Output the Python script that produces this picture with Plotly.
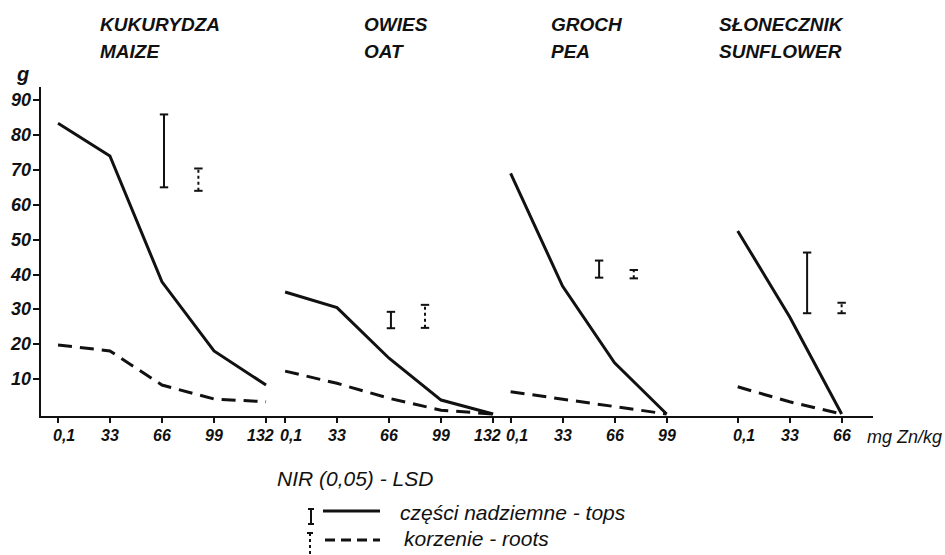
import plotly.graph_objects as go

# ---------------- data ----------------
crop_pl = ["KUKURYDZA", "OWIES", "GROCH", "SŁONECZNIK"]
crop_en = ["MAIZE", "OAT", "PEA", "SUNFLOWER"]

maize_doses = [0.1, 33, 66, 99, 132]
oat_doses = [0.1, 33, 66, 99, 132]
pea_doses = [0.1, 33, 66, 99]
sunflower_doses = [0.1, 33, 66]

maize_labels = ["0,1", "33", "66", "99", "132"]
oat_labels = ["0,1", "33", "66", "99", "132"]
pea_labels = ["0,1", "33", "66", "99"]
sunflower_labels = ["0,1", "33", "66"]

maize_tops = [83.4, 74.0, 37.9, 18.1, 8.3]
maize_roots = [19.8, 18.1, 8.3, 4.3, 3.5]
oat_tops = [35.0, 30.5, 16.0, 4.0, 0.0]
oat_roots = [12.3, 8.8, 4.5, 1.1, 0.0]
pea_tops = [69.0, 36.7, 14.7, 0.0]
pea_roots = [6.4, 4.2, 2.0, 0.0]
sunflower_tops = [52.5, 27.9, 0.0]
sunflower_roots = [7.8, 3.5, 0.0]

# LSD (NIR 0.05) bars: dose position, lower and upper end
lsd_tops_x = [67.3, 67.2, 56.2, 44.1]
lsd_tops_low = [65.0, 24.6, 39.1, 28.9]
lsd_tops_high = [85.9, 29.3, 44.0, 46.3]
lsd_roots_x = [89.1, 88.8, 78.2, 66.0]
lsd_roots_low = [64.0, 24.7, 38.9, 28.9]
lsd_roots_high = [70.4, 31.3, 41.3, 31.9]

y_ticks = [10, 20, 30, 40, 50, 60, 70, 80, 90]

# ---------------- layout constants ----------------
W, H = 945, 555
ML, MR, MT, MB = 41, 72, 87, 139
PW, PH = W - ML - MR, H - MT - MB
panel_offset = [0, 144, 287, 431]          # horizontal shift of each crop panel
X_RANGE = [-10.7, -10.7 + PW / 1.577]
Y_RANGE = [-0.57, -0.57 + PH / 3.4875]

FAM = "Liberation Sans, Arial, sans-serif"
INK = "#111111"


def px(xp):
    return (xp - ML) / PW


def py(yp):
    return (H - MB - yp) / PH


def fnt(size, bold=False):
    return dict(family=FAM, size=size, color=INK, style="italic",
                weight="bold" if bold else "normal")


doses = [maize_doses, oat_doses, pea_doses, sunflower_doses]
labels = [maize_labels, oat_labels, pea_labels, sunflower_labels]
tops = [maize_tops, oat_tops, pea_tops, sunflower_tops]
roots = [maize_roots, oat_roots, pea_roots, sunflower_roots]

fig = go.Figure()
annotations = []

tickvals = []
for i in range(4):
    xs = [d + panel_offset[i] for d in doses[i]]
    tickvals += xs
    fig.add_trace(go.Scatter(x=xs, y=tops[i], mode="lines",
                             line=dict(color=INK, width=3), showlegend=False,
                             hoverinfo="skip"))
    fig.add_trace(go.Scatter(x=xs, y=roots[i], mode="lines",
                             line=dict(color=INK, width=3, dash="14px,8px"),
                             showlegend=False, hoverinfo="skip"))
    # LSD bars
    xt = lsd_tops_x[i] + panel_offset[i]
    fig.add_trace(go.Scatter(x=[xt, xt], y=[lsd_tops_low[i], lsd_tops_high[i]],
                             mode="lines+markers",
                             line=dict(color=INK, width=2),
                             marker=dict(symbol="line-ew", size=6,
                                         line=dict(color=INK, width=2)),
                             showlegend=False, hoverinfo="skip"))
    xr = lsd_roots_x[i] + panel_offset[i]
    fig.add_trace(go.Scatter(x=[xr, xr], y=[lsd_roots_low[i], lsd_roots_high[i]],
                             mode="lines+markers",
                             line=dict(color=INK, width=2, dash="3px,3px"),
                             marker=dict(symbol="line-ew", size=6,
                                         line=dict(color=INK, width=2)),
                             showlegend=False, hoverinfo="skip"))
    # x tick labels (as text so the crowded 132 / 0,1 pairs can sit apart)
    for x, lab in zip(xs, labels[i]):
        shift = 6 if lab == "0,1" else (-6 if lab == "132" else 0)
        annotations.append(dict(x=x, y=py(435), xref="x", yref="paper",
                                text=lab, showarrow=False,
                                xanchor="center", yanchor="middle", xshift=shift,
                                font=fnt(16, True)))

# y tick labels
for v in y_ticks:
    annotations.append(dict(x=px(33), y=v, xref="paper", yref="y", text=str(v),
                            showarrow=False, xanchor="right", yanchor="middle",
                            font=fnt(18, True)))

title_left = [98, 362, 549, 717]
for i in range(4):
    for txt, yy in ((crop_pl[i], 24), (crop_en[i], 51)):
        annotations.append(dict(x=px(title_left[i]), y=py(yy), xref="paper",
                                yref="paper", text=txt, showarrow=False,
                                xanchor="left", yanchor="middle",
                                font=fnt(19, True)))

annotations.append(dict(x=px(22), y=py(74), xref="paper", yref="paper",
                        text="g", showarrow=False, xanchor="center",
                        yanchor="middle", font=fnt(20, True)))
annotations.append(dict(x=px(865), y=py(437), xref="paper", yref="paper",
                        text="mg Zn/kg", showarrow=False, xanchor="left",
                        yanchor="middle", font=fnt(18)))

# manual legend
annotations.append(dict(x=px(275), y=py(478), xref="paper", yref="paper",
                        text="NIR (0,05) - LSD", showarrow=False, xanchor="left",
                        yanchor="middle", font=fnt(21)))
annotations.append(dict(x=px(398), y=py(512), xref="paper", yref="paper",
                        text="części nadziemne - tops", showarrow=False,
                        xanchor="left", yanchor="middle", font=fnt(21)))
annotations.append(dict(x=px(402), y=py(538), xref="paper", yref="paper",
                        text="korzenie - roots", showarrow=False,
                        xanchor="left", yanchor="middle", font=fnt(21)))

shapes = []


def seg(x0, y0, x1, y1, width=2, dash="solid"):
    shapes.append(dict(type="line", xref="paper", yref="paper",
                       x0=px(x0), y0=py(y0), x1=px(x1), y1=py(y1),
                       line=dict(color=INK, width=width, dash=dash)))


# tops legend: I-beam + solid line
seg(311, 509, 311, 524)
seg(308, 509, 314, 509)
seg(308, 524, 314, 524)
seg(323, 511, 380, 511, width=3)
# roots legend: dashed I-beam + dashed line
seg(310, 533, 310, 560, dash="3px,3px")
seg(307, 533, 313, 533)
seg(325, 540, 380, 540, width=3, dash="10px,6px")

fig.update_layout(
    width=W, height=H,
    margin=dict(l=ML, r=MR, t=MT, b=MB, pad=0),
    paper_bgcolor="white", plot_bgcolor="white",
    showlegend=False,
    annotations=annotations,
    shapes=shapes,
    xaxis=dict(range=X_RANGE, showgrid=False, zeroline=False,
               showline=True, linecolor=INK, linewidth=2,
               ticks="outside", ticklen=5, tickwidth=1.5, tickcolor=INK,
               tickmode="array", tickvals=tickvals, showticklabels=False),
    yaxis=dict(range=Y_RANGE, showgrid=False, zeroline=False,
               showline=True, linecolor=INK, linewidth=2,
               ticks="outside", ticklen=6, tickwidth=1.5, tickcolor=INK,
               tickmode="array", tickvals=y_ticks, showticklabels=False),
)

fig.write_html("out.html")
